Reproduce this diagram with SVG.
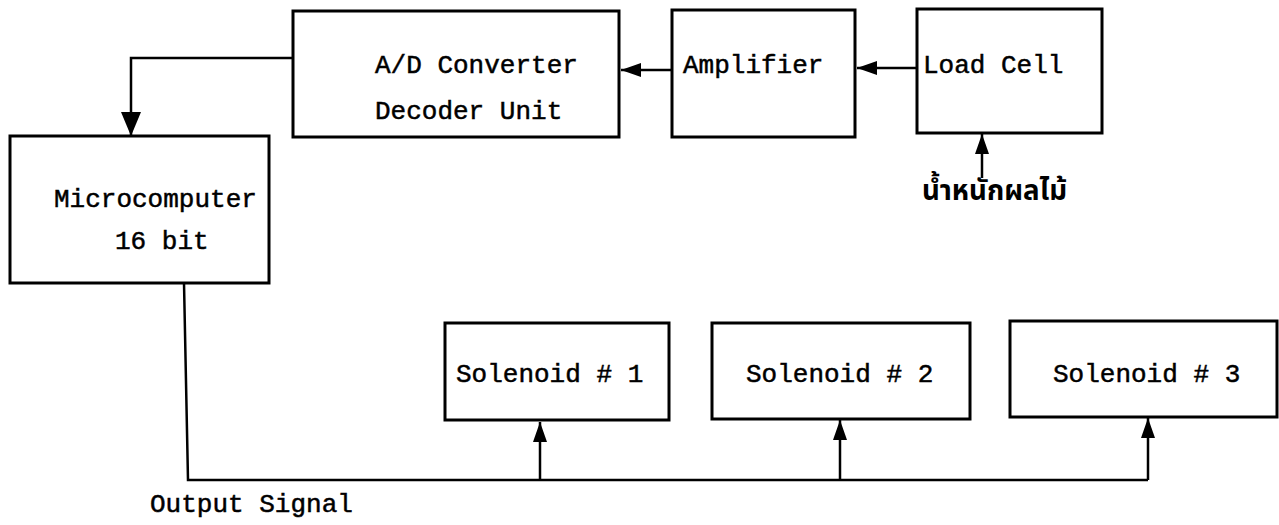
<svg xmlns="http://www.w3.org/2000/svg" width="1279" height="525" viewBox="0 0 1279 525">
<style>
.box{fill:#fff;stroke:#000;stroke-width:3}
.t{font-family:"Liberation Mono","Courier New",monospace;font-size:26px;fill:#000;stroke:#000;stroke-width:0.5}
.th{font-family:"Noto Sans Thai","Noto Sans Thai Looped","Loma","Garuda","Tlwg Typo",sans-serif;font-size:28px;fill:#000;font-weight:bold}
.c{fill:none;stroke:#000;stroke-width:2.5}
</style>
<defs>
<marker id="arr" viewBox="0 0 20 14" refX="20" refY="7" markerWidth="20" markerHeight="14" markerUnits="userSpaceOnUse" orient="auto"><path d="M0,0 L20,7 L0,14 z" fill="#000"/></marker>
<marker id="arrBig" viewBox="0 0 24 20" refX="24" refY="10" markerWidth="24" markerHeight="20" markerUnits="userSpaceOnUse" orient="auto"><path d="M0,0 L24,10 L0,20 z" fill="#000"/></marker>
</defs>
<rect width="1279" height="525" fill="#fff"/>
<g id="ad">
<rect class="box" x="293" y="11" width="326" height="126"/>
<text class="t" x="375" y="73">A/D Converter</text>
<text class="t" x="375" y="119">Decoder Unit</text>
</g>
<g id="amplifier">
<rect class="box" x="672" y="10" width="183" height="127"/>
<text class="t" x="683" y="73">Amplifier</text>
</g>
<g id="loadcell">
<rect class="box" x="917" y="9" width="185" height="124"/>
<text class="t" x="923" y="73">Load Cell</text>
</g>
<g id="weight">
<text class="th" x="922" y="200" textLength="145" lengthAdjust="spacingAndGlyphs">น้ำหนักผลไม้</text>
</g>
<g id="micro">
<rect class="box" x="10" y="136" width="259" height="147"/>
<text class="t" x="54" y="207">Microcomputer</text>
<text class="t" x="115" y="249">16 bit</text>
</g>
<g id="sol1">
<rect class="box" x="445" y="323" width="224" height="97"/>
<text class="t" x="456" y="382">Solenoid # 1</text>
</g>
<g id="sol2">
<rect class="box" x="712" y="323" width="258" height="96"/>
<text class="t" x="746" y="382">Solenoid # 2</text>
</g>
<g id="sol3">
<rect class="box" x="1010" y="321" width="267" height="96"/>
<text class="t" x="1053" y="382">Solenoid # 3</text>
</g>
<g id="output-label">
<text class="t" x="150" y="512">Output Signal</text>
</g>
<g id="connectors">
<path class="c" d="M293,58 H131 V136" marker-end="url(#arrBig)"/>
<path class="c" d="M672,70 H621" marker-end="url(#arr)"/>
<path class="c" d="M917,68 H857" marker-end="url(#arr)"/>
<path class="c" d="M982,178 V134" marker-end="url(#arr)"/>
<path class="c" d="M184,283 L188,480 H1148"/>
<path class="c" d="M540,480 V422" marker-end="url(#arr)"/>
<path class="c" d="M840,480 V420" marker-end="url(#arr)"/>
<path class="c" d="M1148,480 V418" marker-end="url(#arr)"/>
</g>
</svg>
